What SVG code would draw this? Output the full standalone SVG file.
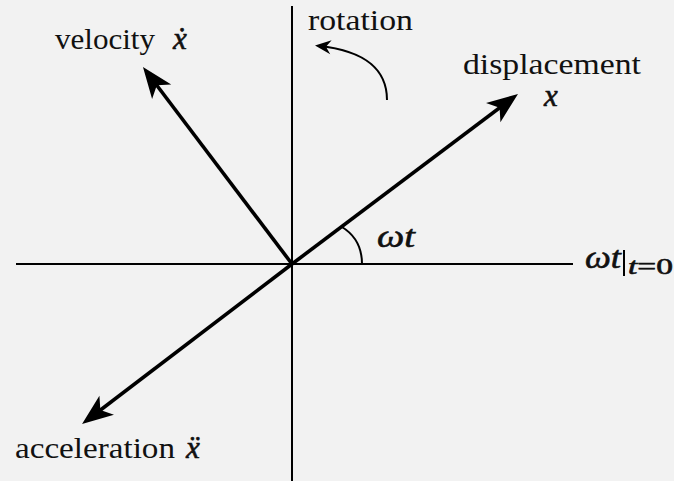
<svg xmlns="http://www.w3.org/2000/svg" width="674" height="481" viewBox="0 0 674 481">
  <style>
    .axis { stroke: #000; stroke-width: 2; fill: none; }
    .vec { stroke: #000; stroke-width: 3.6; fill: none; marker-end: url(#big); }
    .rot { stroke: #000; stroke-width: 2; fill: none; marker-end: url(#small); }
    .lbl { font-family: 'Liberation Serif', serif; font-size: 30px; fill: #111; }
    .math { font-family: 'Liberation Serif', 'DejaVu Serif', serif; font-style: italic; font-size: 31px; fill: #111; stroke: #111; stroke-width: 0.6; }
  </style>
  <defs>
    <marker id="big" markerUnits="userSpaceOnUse" viewBox="-22 -13 34 26" refX="0" refY="0" markerWidth="34" markerHeight="26" orient="auto" overflow="visible">
      <path d="M10,0 L-21,-12 L-13,0 L-21,12 Z" fill="#000"/>
    </marker>
    <marker id="small" markerUnits="userSpaceOnUse" viewBox="-14 -8 22 16" refX="0" refY="0" markerWidth="22" markerHeight="16" orient="auto" overflow="visible">
      <path d="M4,0 L-12,-7 L-7,0 L-12,7 Z" fill="#000"/>
    </marker>
  </defs>
  <rect width="674" height="481" fill="#f2f2f2"/>

  <g id="axes">
    <line class="axis" x1="16" y1="264" x2="573" y2="264"/>
    <line class="axis" x1="292" y1="6" x2="292" y2="481"/>
  </g>

  <g id="connectors">
    <line class="vec" x1="292" y1="264" x2="510" y2="100"/>
    <line class="vec" x1="292" y1="264" x2="149" y2="75"/>
    <line class="vec" x1="292" y1="264" x2="90" y2="418"/>
    <path class="rot" d="M387,100 C387,72 368,51 319,46"/>
    <path class="axis" d="M362,264 C362,248 355,235 342,227"/>
  </g>

  <g id="velocity">
    <text class="lbl" font-family="Liberation Serif, serif" x="55" y="49" textLength="100" lengthAdjust="spacingAndGlyphs">velocity</text>
    <text class="math" x="173" y="49">ẋ</text>
  </g>
  <g id="displacement">
    <text class="lbl" font-family="Liberation Serif, serif" x="463" y="74" textLength="178" lengthAdjust="spacingAndGlyphs">displacement</text>
    <text class="math" x="544" y="106">x</text>
  </g>
  <g id="acceleration">
    <text class="lbl" font-family="Liberation Serif, serif" x="15" y="458" textLength="160" lengthAdjust="spacingAndGlyphs">acceleration</text>
    <text class="math" x="186" y="458">ẍ</text>
  </g>
  <g id="rotation">
    <text class="lbl" font-family="Liberation Serif, serif" x="308" y="30" textLength="105" lengthAdjust="spacingAndGlyphs">rotation</text>
  </g>
  <g id="angle">
    <text class="math" x="377" y="247" textLength="38" lengthAdjust="spacingAndGlyphs">ωt</text>
  </g>
  <g id="reference">
    <text class="math" x="585" y="268" textLength="36" lengthAdjust="spacingAndGlyphs">ωt</text>
    <line x1="624" y1="250" x2="624" y2="276" stroke="#000" stroke-width="2"/>
    <text class="math" x="628" y="274" style="font-size:23px" textLength="45" lengthAdjust="spacingAndGlyphs">t<tspan font-style="normal">=0</tspan></text>
  </g>
</svg>
